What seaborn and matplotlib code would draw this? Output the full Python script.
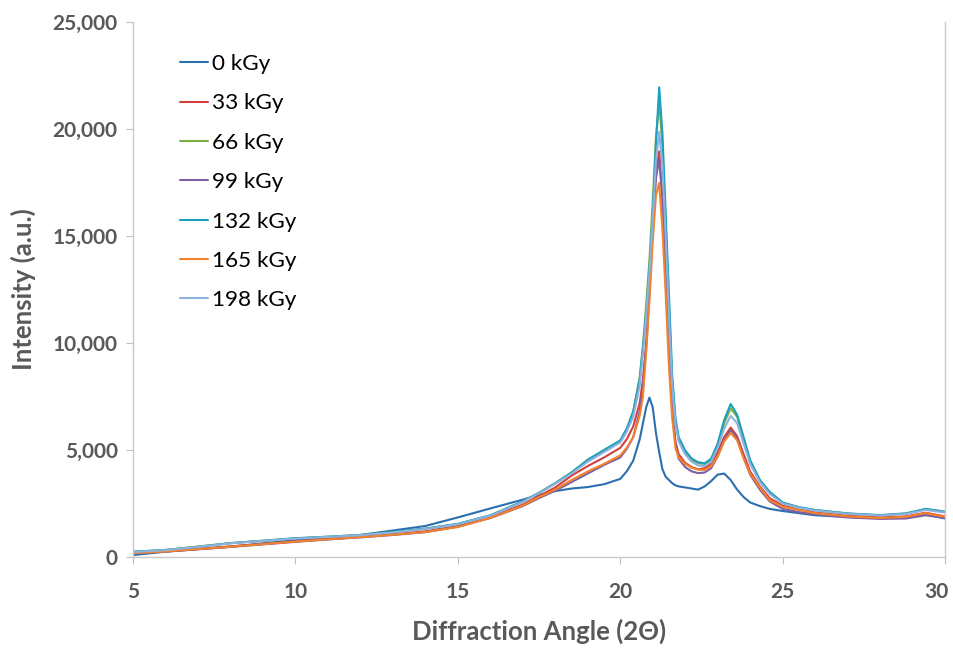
import numpy as np
import pandas as pd
import matplotlib
matplotlib.use("Agg")
import matplotlib.pyplot as plt
import matplotlib.transforms as mtransforms
import seaborn as sns

# ---- data ----
angle = [5, 6, 7, 8, 9, 10, 11, 12, 13, 14, 15, 16, 17, 17.5, 18, 18.5, 19, 19.5,
         20.0, 20.2, 20.4, 20.6, 20.7, 20.8, 20.9, 21.0, 21.1, 21.2, 21.3, 21.4,
         21.5, 21.6, 21.7, 21.8, 22.0, 22.2, 22.4, 22.6, 22.8, 23.0, 23.2, 23.4,
         23.6, 23.8, 24.0, 24.3, 24.6, 25.0, 25.5, 26, 27, 28, 28.8, 29.4, 30]

kgy_0 = [90, 250, 370, 480, 640, 790, 900, 1030, 1240, 1450, 1850, 2270, 2680, 2900,
         3080, 3200, 3270, 3400, 3650, 4000, 4500, 5500, 6250, 7000, 7450, 7000, 5800,
         4900, 4100, 3750, 3600, 3450, 3350, 3300, 3250, 3200, 3150, 3300, 3550, 3850,
         3900, 3600, 3150, 2800, 2550, 2380, 2250, 2150, 2050, 1950, 1870, 1820, 1850,
         2000, 1800]
kgy_33 = [190, 270, 380, 500, 610, 730, 840, 940, 1060, 1200, 1450, 1870, 2450, 2850,
          3250, 3800, 4250, 4650, 5100, 5500, 6100, 7200, 8300, 10000, 12600, 15500,
          18000, 18950, 16800, 13300, 9600, 6900, 5400, 4800, 4400, 4200, 4100, 4150,
          4350, 4900, 5600, 6050, 5650, 4800, 4000, 3300, 2750, 2400, 2230, 2080, 1930,
          1850, 1900, 2070, 1900]
kgy_66 = [240, 330, 490, 650, 760, 870, 950, 1030, 1160, 1320, 1540, 1940, 2590, 3000,
          3450, 3950, 4520, 4980, 5420, 5950, 6800, 8400, 9900, 11800, 13900, 16600,
          19600, 21250, 19200, 15600, 11800, 8200, 6300, 5500, 4900, 4550, 4380, 4350,
          4550, 5250, 6250, 6950, 6550, 5500, 4480, 3580, 3020, 2530, 2320, 2190, 2030,
          1950, 2030, 2240, 2110]
kgy_99 = [170, 250, 360, 470, 590, 710, 820, 920, 1030, 1160, 1420, 1820, 2380, 2750,
          3100, 3500, 3900, 4300, 4650, 5050, 5600, 6800, 8000, 9800, 12300, 15200,
          17700, 18600, 16700, 13400, 9800, 6900, 5300, 4600, 4200, 4000, 3920, 3950,
          4150, 4700, 5450, 5930, 5550, 4650, 3850, 3150, 2600, 2250, 2100, 2000, 1850,
          1780, 1800, 1950, 1820]
kgy_132 = [250, 330, 480, 650, 760, 880, 950, 1030, 1170, 1330, 1550, 1950, 2600, 3000,
           3450, 3950, 4550, 5000, 5450, 6000, 6800, 8300, 9800, 11400, 13400, 16000,
           19300, 21950, 19800, 16000, 12300, 8500, 6500, 5600, 4980, 4600, 4430, 4380,
           4600, 5300, 6400, 7150, 6650, 5600, 4530, 3600, 3050, 2550, 2330, 2200, 2040,
           1960, 2040, 2250, 2120]
kgy_165 = [180, 260, 370, 480, 600, 720, 830, 930, 1040, 1170, 1400, 1830, 2400, 2800,
           3150, 3600, 4000, 4350, 4750, 5100, 5600, 6600, 7500, 9600, 12000, 14700,
           16900, 17480, 15300, 12300, 8900, 6500, 5100, 4650, 4350, 4170, 4080, 4070,
           4250, 4700, 5400, 5800, 5450, 4600, 3900, 3250, 2650, 2350, 2200, 2050, 1900,
           1820, 1880, 2050, 1880]
kgy_198 = [230, 320, 470, 640, 750, 860, 940, 1020, 1150, 1310, 1530, 1930, 2570, 2980,
           3420, 3900, 4450, 4900, 5350, 5850, 6550, 8000, 9500, 11300, 13300, 15800,
           18500, 19870, 18300, 15000, 11300, 8000, 6200, 5400, 4800, 4450, 4280, 4250,
           4450, 5100, 6000, 6600, 6250, 5300, 4350, 3500, 2950, 2500, 2300, 2170, 2020,
           1940, 2010, 2200, 2080]

series_names = ["0 kGy", "33 kGy", "66 kGy", "99 kGy", "132 kGy", "165 kGy", "198 kGy"]
series_vals = [kgy_0, kgy_33, kgy_66, kgy_99, kgy_132, kgy_165, kgy_198]
colors = ["#2C6FB0", "#D2403D", "#7DAF45", "#7D5FA6", "#1BA0BE", "#F4822A", "#8FB2DC"]

x_ticks = [5, 10, 15, 20, 25, 30]
y_ticks = [0, 5000, 10000, 15000, 20000, 25000]

df = pd.concat([pd.DataFrame({"angle": angle, "intensity": v, "dose": n})
                for n, v in zip(series_names, series_vals)], ignore_index=True)

# ---- styling ----
sns.set_style("ticks")
plt.rcParams["font.family"] = ["Lato", "DejaVu Sans"]

fig = plt.figure(figsize=(9.54, 6.48), dpi=100)
ax = fig.add_axes([0.1394, 0.1404, 0.8512, 0.8256])

sns.lineplot(data=df, x="angle", y="intensity", hue="dose", hue_order=series_names,
             palette=colors, linewidth=1.5, ax=ax, sort=False)

ax.set_xlim(5, 30)
ax.set_ylim(0, 25000)
ax.set_xticks(x_ticks)
ax.set_yticks(y_ticks)
ax.set_xticklabels([str(t) for t in x_ticks])
ax.set_yticklabels([f"{t:,}" for t in y_ticks])

grey = "#595959"
ax.spines["top"].set_visible(False)
ax.spines["right"].set_visible(True)
for s in ["left", "bottom", "right"]:
    ax.spines[s].set_color("#C8C8C8")
    ax.spines[s].set_linewidth(1.0)
ax.tick_params(axis="both", direction="out", length=5, color="#BFBFBF",
               labelcolor=grey, labelsize=15)
ax.tick_params(axis="x", pad=13)
ax.tick_params(axis="y", pad=6)
for lab in ax.get_xticklabels() + ax.get_yticklabels():
    lab.set_fontweight("bold")
# keep the last x label inside the canvas
last = ax.get_xticklabels()[-1]
last.set_transform(last.get_transform() +
                   mtransforms.ScaledTranslation(-6 / 72, 0, fig.dpi_scale_trans))

ax.set_xlabel("Diffraction Angle (2Θ)", fontsize=18.5, fontweight="bold", color=grey,
              labelpad=12)
ax.set_ylabel("Intensity (a.u.)", fontsize=18.5, fontweight="bold", color=grey,
              labelpad=12)

leg = ax.legend(loc="upper left", bbox_to_anchor=(0.0579, 0.94), frameon=False,
                fontsize=16.2, handlelength=1.25, handletextpad=0.15,
                labelspacing=0.86, borderpad=0, borderaxespad=0)
for line in leg.get_lines():
    line.set_linewidth(1.5)
for t in leg.get_texts():
    t.set_color("black")

fig.savefig("out.png", dpi=100)
